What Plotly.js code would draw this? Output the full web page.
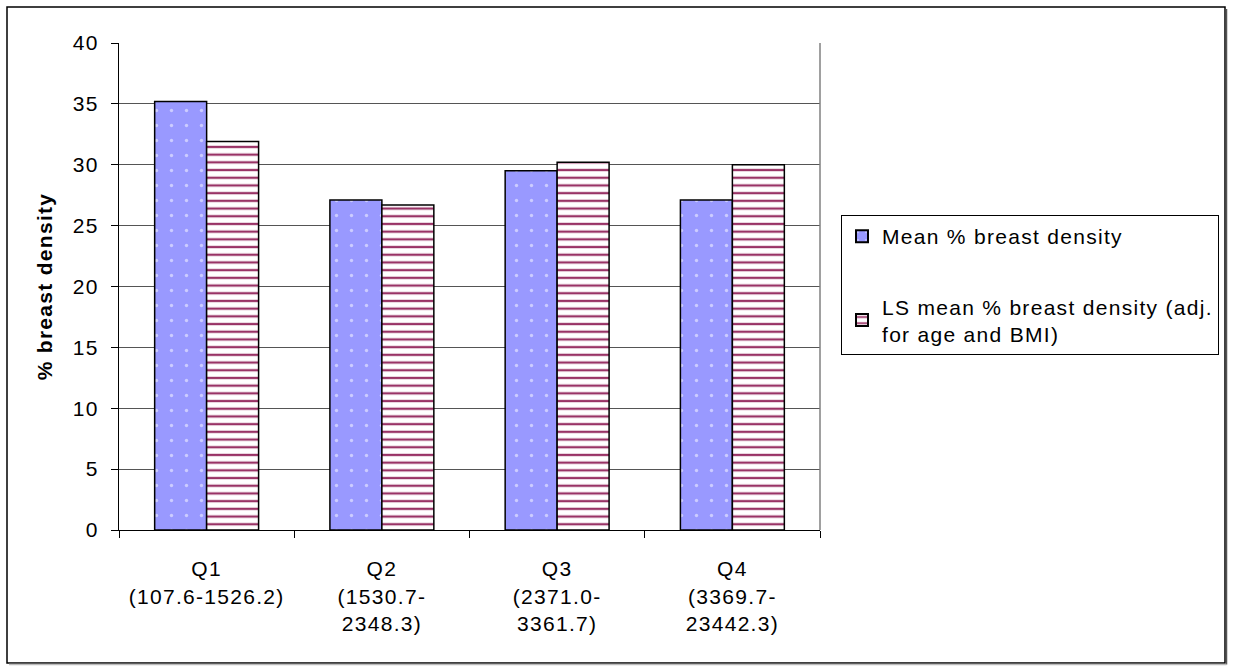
<!DOCTYPE html>
<html>
<head>
<meta charset="utf-8">
<script src="https://cdn.plot.ly/plotly-3.0.1.min.js"></script>
<style>html,body{margin:0;padding:0;background:#fff}#chart{width:1233px;height:672px}text{letter-spacing:1.3px}</style>
</head>
<body>
<div id="chart"></div>
<script>
const categories = ["Q1<br>(107.6-1526.2)", "Q2<br>(1530.7-<br>2348.3)", "Q3<br>(2371.0-<br>3361.7)", "Q4<br>(3369.7-<br>23442.3)"];
const meanDensity = [35.2, 27.1, 29.5, 27.1];
const lsMeanDensity = [31.9, 26.7, 30.2, 30.0];
const seriesNames = ["Mean % breast density", "LS mean % breast density (adj.<br>for age and BMI)"];
const yTicks = [0, 5, 10, 15, 20, 25, 30, 35, 40];

const L = 119, R = 820, T = 43, B = 530, W = 1233, H = 672;
const px = x => (x - L) / (R - L);
const py = y => (B - y) / (B - T);
const FONT = 'Liberation Sans, Arial, sans-serif';

const traces = [
  {
    type: 'bar', x: categories, y: meanDensity, name: seriesNames[0], legendgroup: 'a',
    marker: {color: '#9999FF', line: {color: '#000', width: 1.5},
      pattern: {shape: '.', fillmode: 'overlay', bgcolor: '#9999FF', fgcolor: '#FFFFFF', size: 15, solidity: 0.04}},
    hoverinfo: 'y'
  },
  {
    type: 'bar', x: categories, y: lsMeanDensity, name: seriesNames[1], legendgroup: 'b',
    marker: {color: '#FFFFFF', line: {color: '#000', width: 1.5},
      pattern: {shape: '-', fillmode: 'overlay', bgcolor: '#FFFFFF', fgcolor: '#993366', fgopacity: 1, size: 7.7, solidity: 0.3}},
    hoverinfo: 'y'
  }
];

const layout = {
  width: W, height: H,
  margin: {l: L, r: W - R, t: T, b: H - B, pad: 0},
  paper_bgcolor: '#fff', plot_bgcolor: '#fff',
  font: {family: FONT, size: 21, color: '#000'},
  barmode: 'group', bargap: 0.407, bargroupgap: 0,
  showlegend: true,
  legend: {x: px(841), y: py(215), xanchor: 'left', yanchor: 'top',
    bordercolor: '#000', borderwidth: 1, bgcolor: '#fff',
    font: {size: 21, family: FONT},
    tracegroupgap: 40, traceorder: 'grouped', itemsizing: 'constant'},
  xaxis: {type: 'category', showline: true, linecolor: '#000', linewidth: 1,
    ticks: 'outside', tickson: 'boundaries', ticklen: 7, tickcolor: '#000',
    showgrid: false, zeroline: false, fixedrange: true, ticklabelstandoff: 20,
    tickfont: {size: 21}},
  yaxis: {range: [0, 40], tickvals: yTicks, ticktext: yTicks.map(String),
    showline: true, linecolor: '#000', linewidth: 1,
    ticks: 'outside', ticklen: 7, tickcolor: '#000', ticklabelstandoff: 8,
    showgrid: true, gridcolor: '#555', gridwidth: 1, zeroline: false,
    tickfont: {size: 21}, fixedrange: true,
    title: {text: '<b>% breast density</b>', font: {size: 21}, standoff: 14}},
  shapes: [
    {type: 'line', xref: 'paper', yref: 'paper', x0: 1, x1: 1, y0: 0, y1: 1, line: {color: '#808080', width: 1.5}},
    {type: 'rect', xref: 'paper', yref: 'paper', x0: px(7), x1: px(1225), y0: py(7), y1: py(663), line: {color: '#000', width: 1.5}, layer: 'below'},
    {type: 'line', xref: 'paper', yref: 'paper', x0: px(1226.5), x1: px(1226.5), y0: py(9), y1: py(664.5), line: {color: '#555', width: 1.5}},
    {type: 'line', xref: 'paper', yref: 'paper', x0: px(9), x1: px(1226.5), y0: py(664.5), y1: py(664.5), line: {color: '#bbb', width: 1.5}}
  ]
};

Plotly.newPlot('chart', traces, layout, {displayModeBar: false, staticPlot: true});
</script>
</body>
</html>
